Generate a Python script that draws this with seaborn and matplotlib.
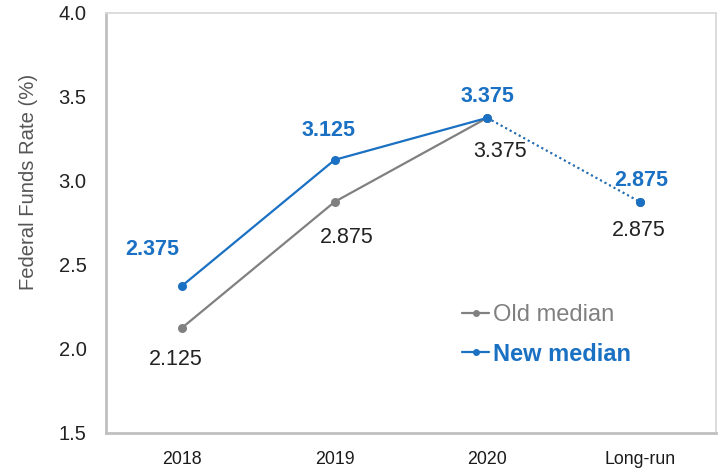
import matplotlib
matplotlib.use("Agg")
import matplotlib.pyplot as plt
import seaborn as sns
import pandas as pd

sns.set_theme(style="white")
plt.rcParams['font.family'] = ['Liberation Sans', 'DejaVu Sans']

categories = ["2018", "2019", "2020", "Long-run"]
old_median = [2.125, 2.875, 3.375, 2.875]
new_median = [2.375, 3.125, 3.375, 2.875]
y_ticks = [1.5, 2.0, 2.5, 3.0, 3.5, 4.0]

BLUE = "#1a70c2"
GRAY = "#808080"

# label placement (pixels from each point)
new_offsets = [(-30, 36), (-6, 29), (0, 21), (2, 21)]
old_offsets = [(-6, -32), (12, -36), (13, -34), (-1, -29)]

fig, ax = plt.subplots(figsize=(7.19, 4.69), dpi=100)
fig.subplots_adjust(left=0.1474, right=0.9958, top=0.9723, bottom=0.0778)

df = pd.DataFrame({"x": range(len(categories)), "old": old_median, "new": new_median})
solid = df.iloc[:3]
proj = df.iloc[2:]

# long-run segments are dotted
sns.lineplot(data=proj, x="x", y="old", ax=ax, color=GRAY, lw=1.4, linestyle=":", zorder=2)
sns.lineplot(data=proj, x="x", y="new", ax=ax, color=BLUE, lw=1.4, linestyle=":", zorder=3)
sns.lineplot(data=solid, x="x", y="old", ax=ax, color=GRAY, lw=1.6, marker="o",
             markersize=6.5, markeredgewidth=0, zorder=4)
sns.lineplot(data=solid, x="x", y="new", ax=ax, color=BLUE, lw=1.6, marker="o",
             markersize=6.5, markeredgewidth=0, zorder=5)
ax.plot([3], [old_median[3]], "o", color=GRAY, ms=6.5, mew=0, zorder=4)
ax.plot([3], [new_median[3]], "o", color=BLUE, ms=6.5, mew=0, zorder=5)

# value labels
for i, (o, n) in enumerate(zip(old_median, new_median)):
    ax.annotate(f"{n:.3f}", (i, n), xytext=new_offsets[i], textcoords="offset pixels",
                ha="center", va="center", color=BLUE, fontsize=15.5, fontweight="bold")
    ax.annotate(f"{o:.3f}", (i, o), xytext=old_offsets[i], textcoords="offset pixels",
                ha="center", va="center", color="#222222", fontsize=15.5)

ax.set_xlim(-0.5, 3.5)
ax.set_ylim(1.5, 4.0)
ax.set_yticks(y_ticks)
ax.set_yticklabels([f"{t:.1f}" for t in y_ticks], fontsize=14.5, color="#222222")
ax.set_xticks(range(len(categories)))
ax.set_xticklabels(categories, fontsize=12.8, color="#1a1a1a")
ax.tick_params(axis="x", length=0, pad=13)
ax.set_xticks([0.5, 1.5, 2.5], minor=True)
ax.tick_params(axis="x", which="minor", length=4, color="#c4c4c4", width=1.2, direction="out")
ax.tick_params(axis="y", length=5, color="#c4c4c4", width=1.2, pad=9)
ax.set_xlabel("")
ax.set_ylabel("Federal Funds Rate (%)", fontsize=14.6, color="#555555")
ax.yaxis.set_label_coords(-0.112, 0.598)

for side in ["left", "bottom"]:
    ax.spines[side].set_color("#c0c0c0")
    ax.spines[side].set_linewidth(2.0)
for side in ["top", "right"]:
    ax.spines[side].set_color("#d9d9d9")
    ax.spines[side].set_linewidth(1.3)

# legend
h_old, = ax.plot([], [], color=GRAY, lw=1.6, marker="o", ms=5, mew=0)
h_new, = ax.plot([], [], color=BLUE, lw=1.6, marker="o", ms=5, mew=0)
leg = ax.legend([h_old, h_new], ["Old median", "New median"], loc="upper left",
                bbox_to_anchor=(0.584, 0.306), frameon=False, fontsize=17,
                handlelength=1.15, handletextpad=0.17, labelspacing=0.7,
                borderpad=0, borderaxespad=0)
texts = leg.get_texts()
texts[0].set_color(GRAY)
texts[1].set_color(BLUE)
texts[1].set_fontweight("bold")

fig.savefig("out.png", dpi=100)
